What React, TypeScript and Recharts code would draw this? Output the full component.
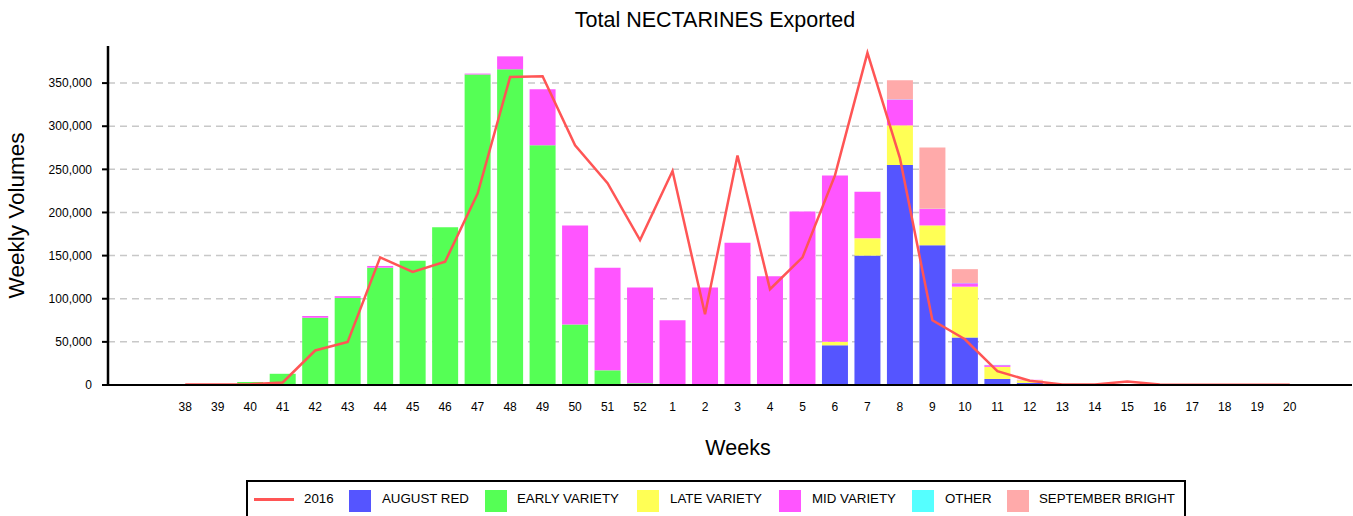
import React from "react";
import { ComposedChart, Bar, Line, XAxis, YAxis, CartesianGrid, Label } from "recharts";

const weeks = ["38","39","40","41","42","43","44","45","46","47","48","49","50","51","52","1","2","3","4","5","6","7","8","9","10","11","12","13","14","15","16","17","18","19","20"];
const augustRed = [0,0,0,0,0,0,0,0,0,0,0,0,0,0,0,0,0,0,0,0,46000,150000,255000,162000,55000,7000,2500,0,0,0,0,0,0,0,0];
const earlyVariety = [0,0,3500,13000,78000,101000,136000,144000,183000,360000,366000,278000,70000,17000,2000,0,0,0,0,0,0,0,0,0,0,0,0,0,0,0,0,0,0,0,0];
const lateVariety = [0,0,0,0,0,0,0,0,0,0,0,0,0,0,0,0,0,0,0,0,4000,20000,46000,23000,59000,14000,3000,0,0,0,0,0,0,0,0];
const midVariety = [0,0,0,0,2000,2000,2000,0,0,1000,15000,65000,115000,119000,111000,75000,113000,165000,126000,201000,193000,54000,30000,19000,4000,2000,500,0,0,0,0,0,0,0,0];
const other = [0,0,0,0,0,0,0,0,0,0,0,0,0,0,0,0,0,0,0,0,0,0,300,300,300,300,0,0,0,0,0,0,0,0,0];
const septemberBright = [0,0,0,0,0,0,0,0,0,0,0,0,0,0,0,0,0,0,0,0,0,0,22000,71000,16000,0,0,0,0,0,0,0,0,0,0];
const y2016 = [500,500,1000,3000,40000,50000,148000,131000,143000,222000,357000,358000,278000,234000,168000,248000,82000,266000,111000,148000,243000,385000,263000,75000,53000,16000,5000,500,500,4000,500,300,300,300,300];
const yTicks = [0,50000,100000,150000,200000,250000,300000,350000];

const data = weeks.map((w, i) => ({
  week: w,
  ar: augustRed[i],
  ev: earlyVariety[i],
  lv: lateVariety[i],
  mv: midVariety[i],
  ot: other[i],
  sb: septemberBright[i],
  y16: y2016[i],
}));

const FONT = "'Liberation Sans', Arial, sans-serif";
const C = { ar: "#5555FF", ev: "#55FF55", lv: "#FFFF55", mv: "#FF55FF", ot: "#55FFFF", sb: "#FFAAAA", line: "#FF5555" };

const legendItems = [
  { type: "line", color: C.line, label: "2016", sx: 254, tx: 304 },
  { type: "box", color: C.ar, label: "AUGUST RED", sx: 349, tx: 382 },
  { type: "box", color: C.ev, label: "EARLY VARIETY", sx: 485, tx: 517 },
  { type: "box", color: C.lv, label: "LATE VARIETY", sx: 637, tx: 670 },
  { type: "box", color: C.mv, label: "MID VARIETY", sx: 779, tx: 812 },
  { type: "box", color: C.ot, label: "OTHER", sx: 912, tx: 945 },
  { type: "box", color: C.sb, label: "SEPTEMBER BRIGHT", sx: 1007, tx: 1039 },
];

export default function App() {
  return (
    <div style={{ position: "absolute", left: 0, top: 0, width: 1353, height: 516, background: "#fff", fontFamily: FONT, overflow: "hidden" }}>
      <div style={{ position: "absolute", left: 0, top: 8, width: 1430, textAlign: "center", fontSize: 21.5, color: "#000" }}>
        Total NECTARINES Exported
      </div>
      <ComposedChart
        width={1353}
        height={516}
        data={data}
        margin={{ top: 46, right: 1, bottom: 101, left: 0 }}
        barCategoryGap="10%"
        style={{ fontFamily: FONT }}
      >
        <CartesianGrid vertical={false} horizontalValues={yTicks} stroke="#c8c8c8" strokeDasharray="7 5" strokeWidth={1.5} />
        <XAxis
          dataKey="week"
          height={30}
          padding={{ left: 61, right: 46 }}
          axisLine={{ stroke: "#000", strokeWidth: 2 }}
          tickLine={false}
          tickSize={0}
          tickMargin={17}
          interval={0}
          tick={{ fill: "#000", fontSize: 12 }}
        >
          <Label value="Weeks" position="insideBottom" offset={-40} dx={8} style={{ fontSize: 21.5, fill: "#000" }} />
        </XAxis>
        <YAxis
          width={108}
          domain={[0, 393000]}
          ticks={yTicks}
          interval={0}
          tickFormatter={(v: number) => v.toLocaleString("en-US")}
          axisLine={{ stroke: "#000", strokeWidth: 2.5 }}
          tickLine={{ stroke: "#000", strokeWidth: 2 }}
          tickSize={6}
          tickMargin={10}
          tick={{ fill: "#000", fontSize: 12 }}
        >
          <Label value="Weekly Volumes" angle={-90} position="insideLeft" offset={21} dx={-5} style={{ fontSize: 22.5, fill: "#000", textAnchor: "middle" }} />
        </YAxis>
        <Bar dataKey="ar" stackId="a" fill={C.ar} isAnimationActive={false} />
        <Bar dataKey="ev" stackId="a" fill={C.ev} isAnimationActive={false} />
        <Bar dataKey="lv" stackId="a" fill={C.lv} isAnimationActive={false} />
        <Bar dataKey="mv" stackId="a" fill={C.mv} isAnimationActive={false} />
        <Bar dataKey="ot" stackId="a" fill={C.ot} isAnimationActive={false} />
        <Bar dataKey="sb" stackId="a" fill={C.sb} isAnimationActive={false} />
        <Line dataKey="y16" type="linear" stroke={C.line} strokeWidth={2.5} dot={false} activeDot={false} isAnimationActive={false} />
      </ComposedChart>
      <div style={{ position: "absolute", left: 246, top: 480, width: 936, height: 44, border: "2px solid #000", boxSizing: "content-box" }} />
      {legendItems.map((it) => (
        <React.Fragment key={it.label}>
          {it.type === "line" ? (
            <div style={{ position: "absolute", left: it.sx, top: 498, width: 40, height: 3, background: it.color }} />
          ) : (
            <div style={{ position: "absolute", left: it.sx, top: 490, width: 22, height: 22, background: it.color }} />
          )}
          <div style={{ position: "absolute", left: it.tx, top: 491, fontSize: 13.3, color: "#000", whiteSpace: "nowrap" }}>{it.label}</div>
        </React.Fragment>
      ))}
    </div>
  );
}
